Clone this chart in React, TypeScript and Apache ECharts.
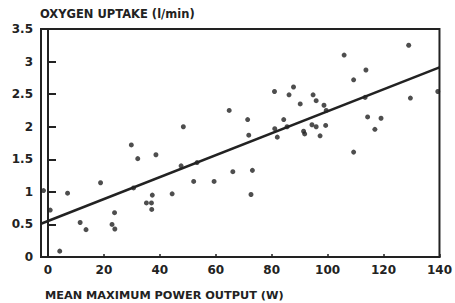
import React, { useEffect, useRef } from "react";
import * as echarts from "echarts";

const xTicks = [0, 20, 40, 60, 80, 100, 120, 140];
const yTicks = [0, 0.5, 1, 1.5, 2, 2.5, 3, 3.5];

const powerW = [
  29.8, 32.1, 38.6, 18.8, 7.0, -1.6, 0.8, 11.5, 13.6, 23.8, 22.9, 23.9, 4.2, 35.2, 37.0, 37.1,
  37.3, 30.6, 44.4, 47.6, 53.3, 52.1, 59.4, 66.1, 73.1, 72.6, 64.8, 71.4, 48.4, 71.8, 105.9,
  109.3, 81.0, 87.8, 86.2, 94.8, 95.9, 90.2, 98.7, 99.5, 84.3, 81.1, 85.5, 82.0, 91.4, 91.8,
  94.4, 95.9, 99.3, 97.3, 109.3, 129.0, 113.7, 113.4, 114.3, 119.1, 116.9, 129.6, 139.4,
];
const oxygen = [
  1.72, 1.51, 1.57, 1.14, 0.98, 1.02, 0.72, 0.53, 0.42, 0.68, 0.5, 0.43, 0.09, 0.83, 0.83, 0.73,
  0.95, 1.06, 0.97, 1.4, 1.45, 1.16, 1.16, 1.31, 1.33, 0.96, 2.25, 2.11, 2.0, 1.87, 3.1, 2.72,
  2.54, 2.61, 2.49, 2.49, 2.4, 2.35, 2.33, 2.25, 2.11, 1.97, 2.0, 1.84, 1.93, 1.89, 2.03, 2.0,
  2.02, 1.86, 1.61, 3.25, 2.87, 2.45, 2.15, 2.13, 1.96, 2.44, 2.54,
];
const fitX = [-2.5, 140];
const fitY = [0.51, 2.91];

const ink = "#222222";
const font = "DejaVu Sans";

export default function App() {
  const ref = useRef<HTMLDivElement>(null);
  useEffect(() => {
    if (!ref.current) return;
    const chart = echarts.init(ref.current, undefined, { renderer: "svg" });
    chart.setOption({
      animation: false,
      backgroundColor: "#ffffff",
      grid: {
        left: 41,
        right: 10,
        top: 29,
        bottom: 46,
        show: true,
        borderColor: ink,
        borderWidth: 2,
        backgroundColor: "transparent",
      },
      xAxis: {
        type: "value",
        min: -2.5,
        max: 140,
        splitLine: { show: false },
        axisLine: { show: true, lineStyle: { color: ink, width: 2 } },
        axisTick: {
          show: true,
          inside: true,
          length: 3,
          customValues: xTicks,
          lineStyle: { color: ink, width: 1.5 },
        },
        axisLabel: {
          customValues: xTicks,
          margin: 7,
          color: ink,
          fontFamily: font,
          fontWeight: "bold",
          fontSize: 12,
        },
      },
      yAxis: {
        type: "value",
        min: 0,
        max: 3.5,
        interval: 0.5,
        splitLine: { show: false },
        axisLine: { show: true, lineStyle: { color: ink, width: 2 } },
        axisTick: { show: true, inside: true, length: 8, lineStyle: { color: ink, width: 2 } },
        axisLabel: {
          margin: 8,
          color: ink,
          fontFamily: font,
          fontWeight: "bold",
          fontSize: 12,
          formatter: (v: number) => String(v),
        },
      },
      graphic: [
        {
          type: "text",
          left: 40,
          top: 8,
          style: {
            text: "OXYGEN UPTAKE (l/min)",
            fill: ink,
            font: `bold 11.5px "${font}"`,
          },
        },
        {
          type: "text",
          left: 45,
          top: 290,
          style: {
            text: "MEAN MAXIMUM POWER OUTPUT (W)",
            fill: ink,
            font: `bold 11.3px "${font}"`,
          },
        },
      ],
      series: [
        {
          type: "scatter",
          data: powerW.map((x, i) => [x, oxygen[i]]),
          symbolSize: 5,
          itemStyle: { color: ink },
        },
        {
          type: "line",
          data: fitX.map((x, i) => [x, fitY[i]]),
          showSymbol: false,
          lineStyle: { color: ink, width: 2.5 },
        },
      ],
    });
    return () => chart.dispose();
  }, []);
  return <div ref={ref} style={{ width: 455, height: 303, position: "absolute", left: 0, top: 0 }} />;
}
